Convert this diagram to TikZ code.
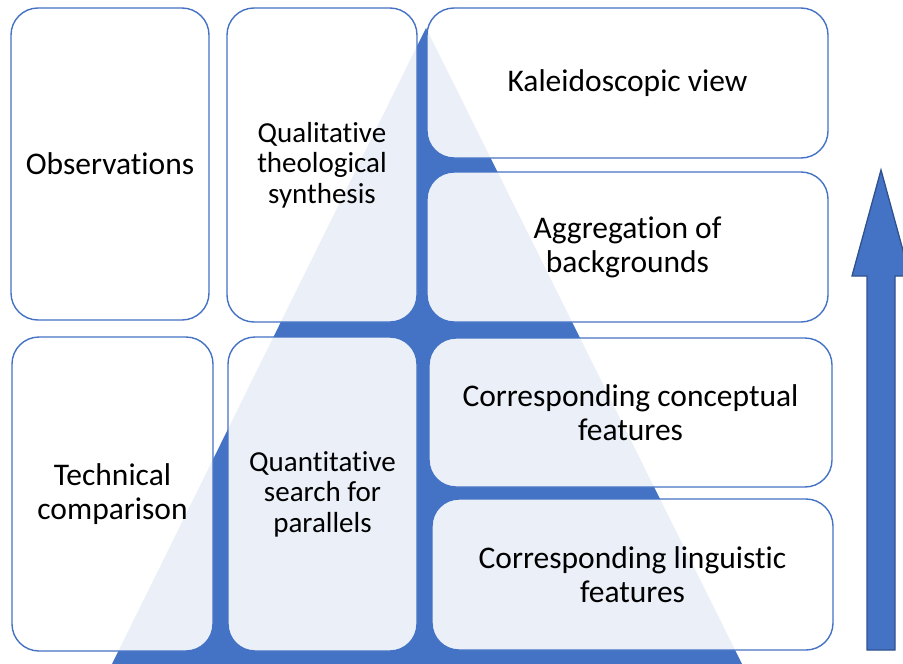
\documentclass[tikz,border=0pt]{standalone}
\usepackage{fontspec}
\setmainfont{Carlito}[Ligatures={NoCommon}]
\definecolor{accent}{HTML}{4472C4}
\definecolor{accentdark}{HTML}{2F528F}
\begin{document}
\begin{tikzpicture}[x=1pt,y=-1pt,
  panel/.style={draw=accent, line width=1.4pt, fill=white, fill opacity=0.89,
    text opacity=1, text=black, rounded corners=27pt, inner sep=0pt,
    align=center, font=\fontsize{31.5}{34}\selectfont},
  narrow/.style={font=\fontsize{29}{30.5}\selectfont}]
\useasboundingbox (0,0) rectangle (903,664);
\clip (0,0) rectangle (903,664);

% background pyramid
\fill[accent] (426,28) -- (742,664) -- (112,664) -- cycle;

% upper row
\node[panel, minimum width=198pt, minimum height=312pt] (obs) at (110,164) {Observations};
\node[panel, narrow, minimum width=190pt, minimum height=314pt] (qual) at (322,165) {Qualitative\\theological\\synthesis};
\node[panel, minimum width=401pt, minimum height=150pt] (kal) at (627.5,83) {Kaleidoscopic view};
\node[panel, minimum width=401pt, minimum height=150pt] (agg) at (627.5,247) {Aggregation of\\backgrounds};

% lower row
\node[panel, minimum width=201pt, minimum height=314pt] (tech) at (112.5,494) {Technical\\comparison};
\node[panel, narrow, minimum width=189pt, minimum height=314pt] (quant) at (322.5,494) {Quantitative\\search for\\parallels};
\node[panel, minimum width=403pt, minimum height=149pt] (conc) at (630.5,412.5) {Corresponding conceptual\\features};
\node[panel, minimum width=401pt, minimum height=151pt] (ling) at (632.5,574.5) {Corresponding linguistic\\features};

% upward arrow
\draw[fill=accent, draw=accentdark, line width=1.3pt, line join=miter]
  (881,170) -- (910,276) -- (895,276) -- (895,650) -- (867,650) -- (867,276) -- (852,276) -- cycle;
\end{tikzpicture}
\end{document}
